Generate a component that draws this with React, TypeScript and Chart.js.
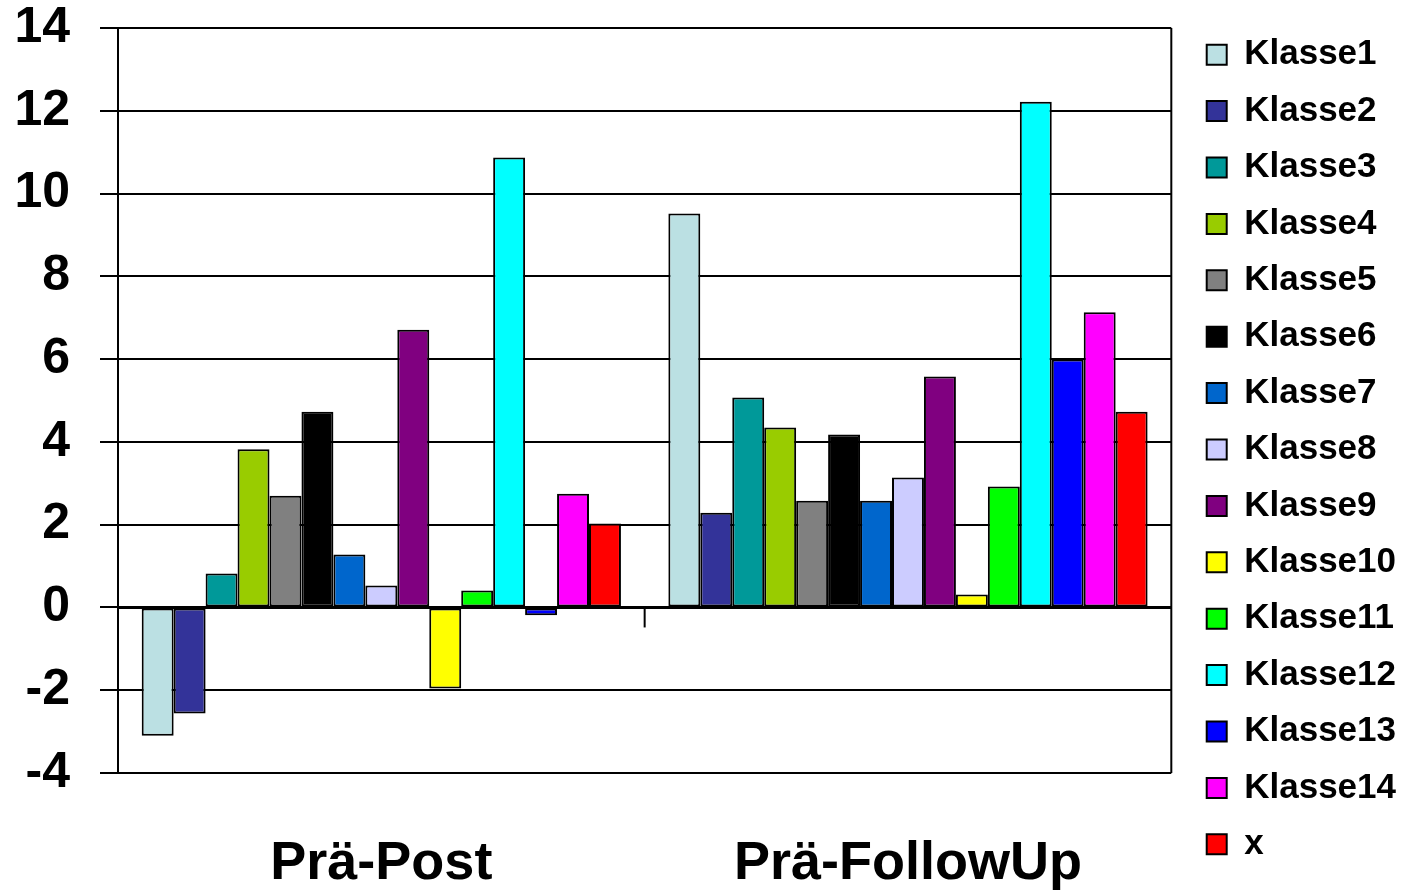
import React, { useEffect, useRef } from "react";
import { Chart, registerables } from "chart.js";

Chart.register(...registerables);

const categories = ["Prä-Post", "Prä-FollowUp"];
const seriesNames = [
  "Klasse1", "Klasse2", "Klasse3", "Klasse4", "Klasse5", "Klasse6", "Klasse7",
  "Klasse8", "Klasse9", "Klasse10", "Klasse11", "Klasse12", "Klasse13", "Klasse14", "x",
];
const seriesColors = [
  "#BBE0E3", "#333399", "#009999", "#99CC00", "#808080", "#000000", "#0066CC",
  "#CCCCFF", "#800080", "#FFFF00", "#00FF00", "#00FFFF", "#0000FF", "#FF00FF", "#FF0000",
];
const praePost = [-3.1, -2.56, 0.82, 3.82, 2.7, 4.73, 1.28, 0.53, 6.71, -1.96, 0.41, 10.87, -0.19, 2.75, 2.03];
const praeFollowUp = [9.52, 2.29, 5.07, 4.35, 2.58, 4.18, 2.58, 3.14, 5.58, 0.31, 2.92, 12.22, 5.99, 7.13, 4.73];
const yTicks = [-4, -2, 0, 2, 4, 6, 8, 10, 12, 14];

const FONT = "'Liberation Sans', Arial, sans-serif";

const framePlugin = {
  id: "frame",
  afterDatasetsDraw(chart: any) {
    const { ctx, chartArea, scales } = chart;
    const y0 = scales.y.getPixelForValue(0);
    ctx.save();
    ctx.strokeStyle = "#000";
    ctx.lineWidth = 3;
    ctx.beginPath();
    ctx.moveTo(chartArea.left, y0);
    ctx.lineTo(chartArea.right, y0);
    ctx.stroke();
    const xs = scales.x;
    ctx.lineWidth = 2;
    for (let i = 0; i < categories.length - 1; i++) {
      const bx = (xs.getPixelForTick(i) + xs.getPixelForTick(i + 1)) / 2;
      ctx.beginPath();
      ctx.moveTo(bx, y0);
      ctx.lineTo(bx, y0 + 20);
      ctx.stroke();
    }
    ctx.beginPath();
    ctx.moveTo(chartArea.right, chartArea.top);
    ctx.lineTo(chartArea.right, chartArea.bottom);
    ctx.stroke();
    ctx.restore();
  },
};

export default function App() {
  const ref = useRef<HTMLCanvasElement>(null);
  useEffect(() => {
    const values = seriesNames.map((_, i) => [praePost[i], praeFollowUp[i]]);
    const chart = new Chart(ref.current as HTMLCanvasElement, {
      type: "bar",
      data: {
        labels: categories,
        datasets: seriesNames.map((name, i) => ({
          label: name,
          data: values[i],
          backgroundColor: seriesColors[i],
          borderColor: "#000",
          borderWidth: 2,
          borderSkipped: false,
          barPercentage: 1,
          categoryPercentage: 0.91,
        })),
      },
      options: {
        animation: false,
        responsive: false,
        maintainAspectRatio: false,
        layout: { padding: { left: 14, top: 8, right: 0, bottom: 0 } },
        plugins: {
          tooltip: { enabled: false },
          legend: {
            position: "right",
            align: "center",
            labels: {
              boxWidth: 20,
              boxHeight: 20,
              padding: 21.4,
              color: "#000",
              font: { family: FONT, size: 35, weight: "bold", lineHeight: 1 },
            },
          },
        },
        scales: {
          x: {
            grid: { display: false, drawTicks: false },
            border: { display: false },
            ticks: {
              color: "#000",
              padding: 64,
              font: { family: FONT, size: 54, weight: "bold", lineHeight: 1 },
            },
            afterFit: (scale: any) => {
              scale.height = 118;
            },
          },
          y: {
            min: -4,
            max: 14,
            afterBuildTicks: (scale: any) => {
              scale.ticks = yTicks.map((v) => ({ value: v }));
            },
            grid: {
              color: "#000",
              lineWidth: 2,
              tickLength: 18,
            },
            border: { display: true, color: "#000", width: 2 },
            ticks: {
              color: "#000",
              padding: 30,
              font: { family: FONT, size: 50, weight: "bold", lineHeight: 1 },
            },
            afterFit: (scale: any) => {
              scale.width = 104;
              scale.paddingTop = 28;
              scale.paddingBottom = 0;
            },
          },
          y2: {
            position: "right",
            display: true,
            grid: { display: false, drawTicks: false },
            border: { display: false },
            ticks: { display: false },
            afterFit: (scale: any) => {
              scale.width = 14;
              scale.paddingTop = 0;
              scale.paddingBottom = 0;
            },
          },
        },
      },
      plugins: [framePlugin],
    });
    return () => chart.destroy();
  }, []);
  return (
    <div style={{ position: "fixed", left: 0, top: 0, width: 1406, height: 891, background: "#fff" }}>
      <canvas ref={ref} width={1406} height={891} style={{ display: "block" }} />
    </div>
  );
}
